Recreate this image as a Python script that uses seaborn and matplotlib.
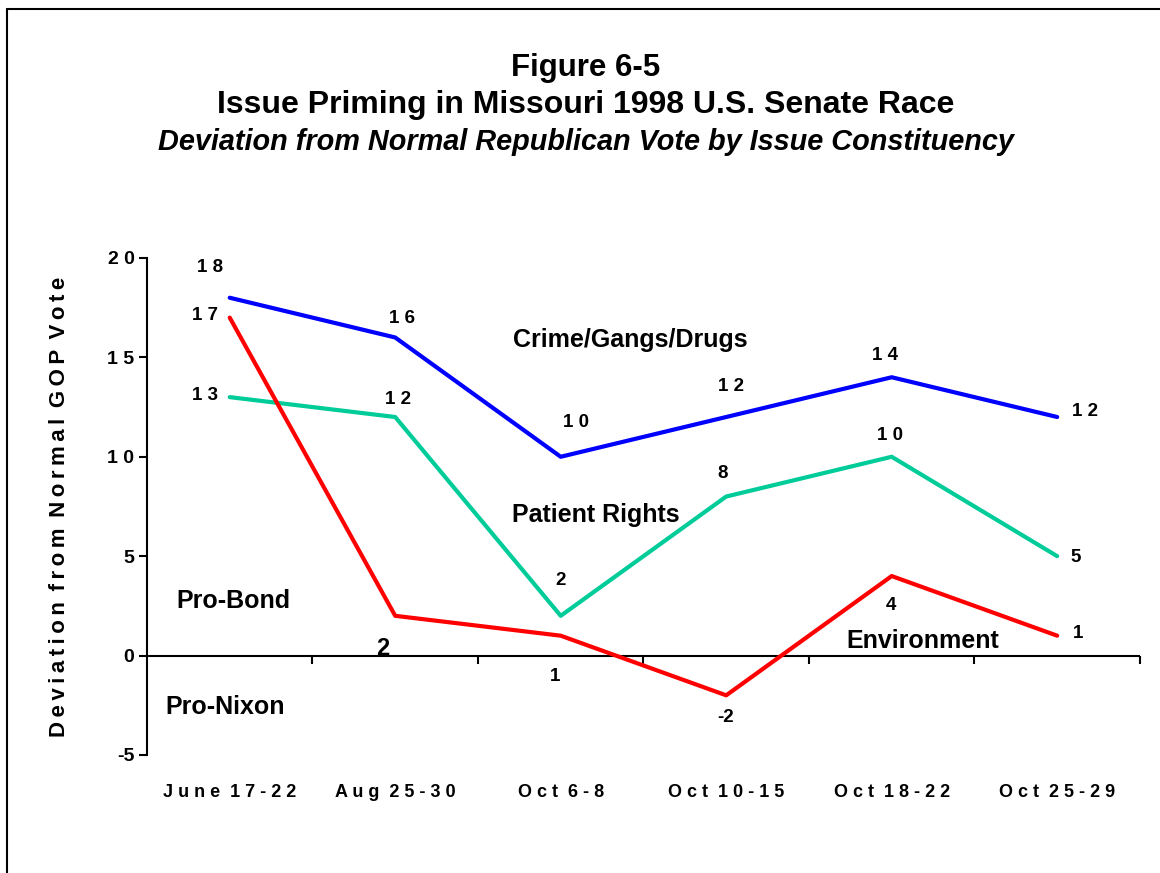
import numpy as np
import pandas as pd
import matplotlib
matplotlib.use("Agg")
import matplotlib.pyplot as plt
from matplotlib.lines import Line2D
import seaborn as sns

# ---- data -------------------------------------------------------------
periods = ["June 17-22", "Aug 25-30", "Oct 6-8", "Oct 10-15", "Oct 18-22", "Oct 25-29"]
crime = [18, 16, 10, 12, 14, 12]
patient = [13, 12, 2, 8, 10, 5]
environment = [17, 2, 1, -2, 4, 1]
y_ticks = [-5, 0, 5, 10, 15, 20]

issues = ["Crime/Gangs/Drugs", "Patient Rights", "Environment"]
series = {"Crime/Gangs/Drugs": crime, "Patient Rights": patient, "Environment": environment}
palette = {"Crime/Gangs/Drugs": "#0000FF", "Patient Rights": "#00CC99", "Environment": "#FF0000"}

# value-label offsets (pixels, right/up) for each point of each series
label_offsets = {
    "Crime/Gangs/Drugs": [(-20, 30), (7, 19), (15, 34), (5, 31), (-7, 22), (28, 6)],
    "Patient Rights": [(-25, 2), (3, 18), (0, 35), (-4, 23), (-2, 21), (18, -1)],
    "Environment": [(-25, 2), (-12, -33), (-6, -41), (-1, -22), (-1, -29), (21, 2)],
}

# in-plot annotation text and anchor positions (x in category units, y in data units)
notes = [
    ("Crime/Gangs/Drugs", 2.42, 15.85),
    ("Patient Rights", 2.21, 7.09),
    ("Pro-Bond", 0.02, 2.72),
    ("Pro-Nixon", -0.03, -2.57),
    ("Environment", 4.19, 0.75),
]

rows = []
for name in issues:
    for i, v in enumerate(series[name]):
        rows.append({"issue": name, "pos": i, "value": v})
df = pd.DataFrame(rows)


def spaced_num(v):
    s = " ".join(str(abs(v)))
    return ("-" if v < 0 else "") + s


def spaced_text(s, gap=" ", word_gap="  "):
    return word_gap.join(gap.join(w) for w in s.split(" "))


# ---- style ------------------------------------------------------------
sns.set_style("white")
plt.rcParams["font.family"] = ["Liberation Sans", "DejaVu Sans"]
plt.rcParams["font.weight"] = "bold"
plt.rcParams["text.color"] = "black"
plt.rcParams["axes.labelcolor"] = "black"
plt.rcParams["xtick.color"] = "black"
plt.rcParams["ytick.color"] = "black"

DPI = 100
fig = plt.figure(figsize=(11.6, 8.73), dpi=DPI)
ax = fig.add_axes([0.1267, 0.1352, 0.8560, 0.5693])

sns.lineplot(data=df, x="pos", y="value", hue="issue", palette=palette,
             hue_order=issues, linewidth=3, legend=False, sort=False,
             estimator=None, ax=ax)

ax.set_xlim(-0.5, len(periods) - 0.5)
ax.set_ylim(min(y_ticks), max(y_ticks))

# axes frame: left spine plus a baseline at zero with category dividers
for side in ["top", "right", "bottom"]:
    ax.spines[side].set_visible(False)
ax.spines["left"].set_color("black")
ax.spines["left"].set_linewidth(1.5)
ax.axhline(0, color="black", lw=1.5, zorder=1)
ax.vlines(np.arange(len(periods)) + 0.5, -0.4, 0, color="black", lw=1.5,
          clip_on=False, zorder=1)

ax.set_yticks(y_ticks)
ax.set_yticklabels([spaced_num(v) for v in y_ticks], fontsize=14, fontweight="bold",
                   color="black")
ax.tick_params(axis="y", direction="out", length=6, width=1.5, pad=3, colors="black", left=True)
ax.set_xticks(range(len(periods)))
ax.set_xticklabels([spaced_text(p) for p in periods], fontsize=13, fontweight="bold",
                   color="black")
ax.tick_params(axis="x", length=0, pad=21, colors="black")
ax.set_xlabel("")
ax.set_ylabel("")

# value labels
px = 72.0 / DPI
for name in issues:
    for i, v in enumerate(series[name]):
        dx, dy = label_offsets[name][i]
        big = (name == "Environment" and i == 1)
        ax.annotate(spaced_num(v), (i, v), xytext=(dx * px, dy * px),
                    textcoords="offset points", ha="center", va="center",
                    fontsize=17 if big else 13.5, fontweight="bold", color="black")

for text, x, y in notes:
    ax.text(x, y, text, ha="center", va="center", fontsize=18,
            fontweight="bold", color="black")

# y-axis title
fig.text(60 / 1160, 1 - 507 / 873,
         spaced_text("Deviation from Normal GOP Vote", gap="\u2009", word_gap=" \u2009"),
         rotation=90, ha="center", va="center", fontsize=16, fontweight="bold",
         color="black")

# titles
fig.text(0.505, 1 - 68 / 873, "Figure 6-5", ha="center", va="center",
         fontsize=22.5, fontweight="bold", color="black")
fig.text(0.505, 1 - 105 / 873, "Issue Priming in Missouri 1998 U.S. Senate Race",
         ha="center", va="center", fontsize=23, fontweight="bold", color="black")
fig.text(0.505, 1 - 142 / 873,
         "Deviation from Normal Republican Vote by Issue Constituency",
         ha="center", va="center", fontsize=20.8, fontweight="bold", style="italic",
         color="black")

# page frame (left and top edges)
x0 = 6.5 / 1160
y0 = 1 - 8.5 / 873
fig.add_artist(Line2D([x0, x0], [0, y0], transform=fig.transFigure, color="black", lw=1.5))
fig.add_artist(Line2D([x0, 1], [y0, y0], transform=fig.transFigure, color="black", lw=1.5))

fig.savefig("out.png", dpi=DPI)
